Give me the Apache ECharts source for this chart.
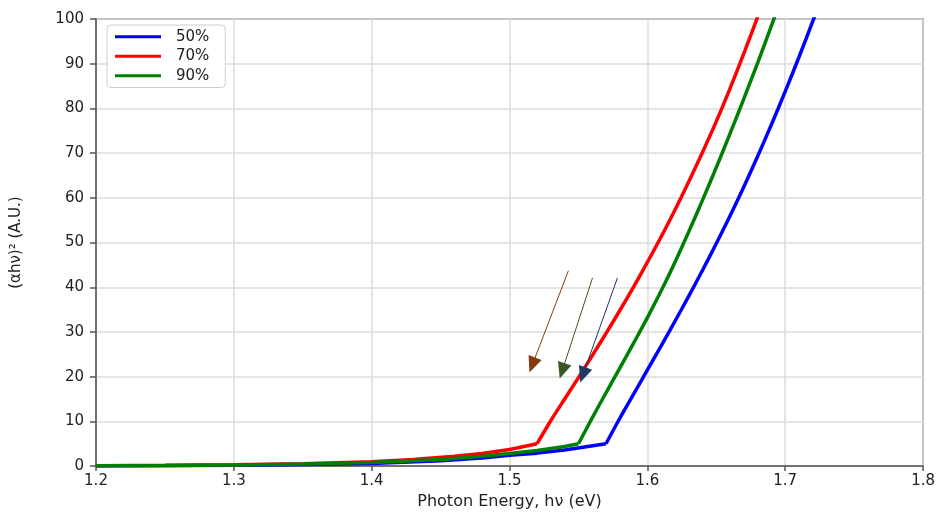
<!DOCTYPE html>
<html>
<head>
<meta charset="utf-8">
<script src="https://cdn.jsdelivr.net/npm/echarts@6/dist/echarts.min.js"></script>
<style>
  html, body { margin: 0; padding: 0; background: #fff; }
  #chart { width: 938px; height: 515px; }
</style>
</head>
<body>
<div id="chart"></div>
<script>
// photon energy (eV) and (αhν)² values, one pair per film
const energy50 = [1.20, 1.25, 1.30, 1.35, 1.40, 1.45, 1.48, 1.50, 1.52, 1.54, 1.57,
  1.58, 1.59, 1.60, 1.61, 1.62, 1.63, 1.64, 1.65, 1.66, 1.67, 1.68, 1.69, 1.70, 1.71, 1.72, 1.73]
const value50 = [0.05, 0.1, 0.2, 0.35, 0.6, 1.2, 1.8, 2.4, 2.9, 3.6, 5,
  10.7, 16.1, 21.5, 26.9, 32.4, 38.0, 43.8, 49.8, 56.0, 62.5, 69.3, 76.4, 83.8, 91.5, 99.5, 107.8]

const energy70 = [1.20, 1.25, 1.30, 1.35, 1.40, 1.43, 1.46, 1.48, 1.50, 1.52,
  1.53, 1.54, 1.55, 1.56, 1.57, 1.58, 1.59, 1.60, 1.61, 1.62, 1.63, 1.64, 1.65, 1.66, 1.67, 1.68]
const value70 = [0.1, 0.18, 0.3, 0.55, 1.0, 1.5, 2.2, 2.8, 3.7, 5,
  10.2, 15.0, 19.8, 24.7, 29.7, 34.8, 40.1, 45.6, 51.3, 57.3, 63.6, 70.2, 77.1, 84.5, 92.3, 100.5]

const energy90 = [1.20, 1.25, 1.30, 1.35, 1.40, 1.45, 1.48, 1.50, 1.52, 1.54, 1.55,
  1.56, 1.57, 1.58, 1.59, 1.60, 1.61, 1.62, 1.63, 1.64, 1.65, 1.66, 1.67, 1.68, 1.69, 1.70]
const value90 = [0.1, 0.15, 0.25, 0.45, 0.8, 1.45, 2.2, 2.8, 3.5, 4.4, 5,
  10.8, 16.4, 21.9, 27.5, 33.2, 39.2, 45.6, 52.4, 59.5, 66.8, 74.4, 82.2, 90.2, 98.5, 107]

// energy where each curve turns from the tail into the steep rise
const kinkEnergy = [1.57, 1.52, 1.55]

const seriesNames = ['50%', '70%', '90%']
const seriesColors = ['#0000ff', '#ff0000', '#008000']

// annotation arrows: [startE, startY, tipE, tipY]
const arrowLines = [
  [1.5427, 43.7, 1.5165, 22.6],
  [1.5602, 42.1, 1.5382, 21.3],
  [1.5783, 42.1, 1.5532, 20.4]
]
const arrowColors = ['#843c0c', '#385723', '#1f3864']

const FONT = 'DejaVu Sans'

function pairs(xs, ys) {
  return xs.map((x, i) => [x, ys[i]])
}

const chart = echarts.init(document.getElementById('chart'))

// each curve is drawn as a straight tail plus a smoothed rise, so the kink stays sharp
const lineSeries = []
;[
  [energy50, value50],
  [energy70, value70],
  [energy90, value90]
].forEach((d, i) => {
  const pts = pairs(d[0], d[1])
  const k = d[0].indexOf(kinkEnergy[i])
  const base = {
    name: seriesNames[i],
    type: 'line',
    showSymbol: false,
    lineStyle: { color: seriesColors[i], width: 3.5 },
    itemStyle: { color: seriesColors[i] },
    z: 3
  }
  lineSeries.push(Object.assign({}, base, { data: pts.slice(0, k + 1), smooth: false }))
  lineSeries.push(Object.assign({}, base, { data: pts.slice(k), smooth: 0.35 }))
})

const arrowSeries = {
  type: 'line',
  data: [],
  silent: true,
  markLine: {
    silent: true,
    symbol: ['none', 'triangle'],
    symbolSize: [14, 16],
    label: { show: false },
    data: arrowLines.map((a, i) => [
      { coord: [a[0], a[1]], lineStyle: { color: arrowColors[i], width: 1, type: 'solid' }, itemStyle: { color: arrowColors[i] } },
      { coord: [a[2], a[3]] }
    ])
  },
  z: 4
}

chart.setOption({
  animation: false,
  textStyle: { fontFamily: FONT },
  grid: {
    left: 96,
    right: 12,
    top: 19,
    bottom: 43,
    show: true,
    borderColor: '#555',
    borderWidth: 1.5
  },
  legend: {
    data: seriesNames,
    orient: 'vertical',
    left: 107,
    top: 25,
    padding: [4, 16, 4, 8],
    itemGap: 4,
    itemWidth: 46,
    itemHeight: 3,
    icon: 'rect',
    backgroundColor: '#fff',
    borderColor: '#cccccc',
    borderWidth: 1,
    borderRadius: 4,
    textStyle: { fontFamily: FONT, fontSize: 15, color: '#222', lineHeight: 15.5, padding: [0, 0, 0, 10] }
  },
  xAxis: {
    type: 'value',
    min: 1.2,
    max: 1.8,
    interval: 0.1,
    name: 'Photon Energy, hν (eV)',
    nameLocation: 'middle',
    nameGap: 24,
    nameTextStyle: { fontFamily: FONT, fontSize: 16, color: '#222' },
    axisLine: { show: true, lineStyle: { color: '#555', width: 1.5 } },
    axisTick: { show: true, length: 5, lineStyle: { color: '#555', width: 1.5 } },
    axisLabel: { fontFamily: FONT, fontSize: 15, color: '#222', margin: 8, formatter: v => v.toFixed(1) },
    splitLine: { show: true, lineStyle: { color: '#dcdcdc', width: 1.5 } }
  },
  yAxis: {
    type: 'value',
    min: 0,
    max: 100,
    interval: 10,
    name: '(αhν)² (A.U.)',
    nameLocation: 'middle',
    nameRotate: 90,
    nameGap: 72,
    nameTextStyle: { fontFamily: FONT, fontSize: 15, color: '#222' },
    axisLine: { show: true, lineStyle: { color: '#555', width: 1.5 } },
    axisTick: { show: true, length: 6, lineStyle: { color: '#555', width: 1.5 } },
    axisLabel: { fontFamily: FONT, fontSize: 15, color: '#222', margin: 12 },
    splitLine: { show: true, lineStyle: { color: '#dcdcdc', width: 1.5 } }
  },
  series: lineSeries.concat([arrowSeries])
})
</script>
</body>
</html>
